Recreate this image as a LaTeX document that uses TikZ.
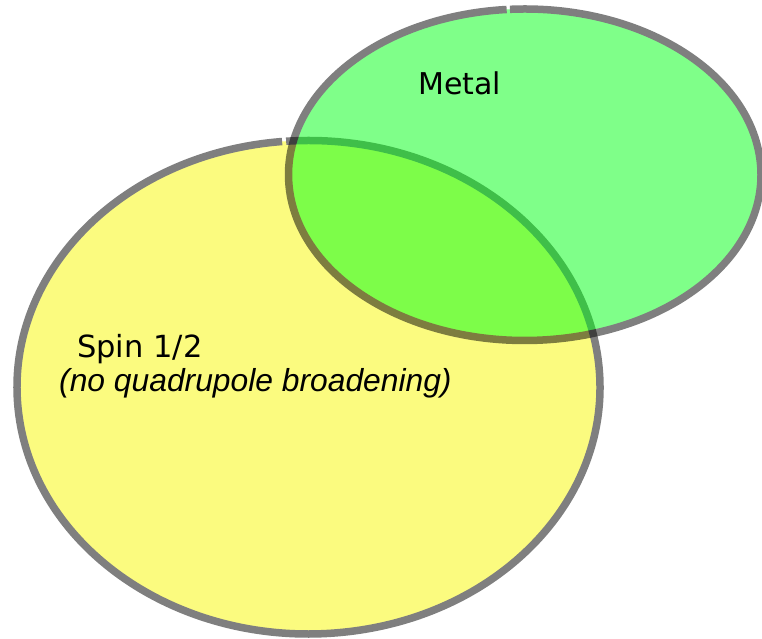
\documentclass[tikz,border=0pt]{standalone}
\usepackage{fontspec}
\setmainfont{DejaVu Sans}
\newfontfamily\italfont{Liberation Sans}
\definecolor{yfill}{RGB}{247,247,0}
\definecolor{gfill}{RGB}{0,255,20}
\tikzset{
  outline/.style={draw=black, line width=7.5pt},
  setgroup/.style={transparency group, opacity=0.5},
  lbl/.style={anchor=base west, inner sep=0pt, text=black}
}
\begin{document}
\begin{tikzpicture}
\useasboundingbox (0,0) rectangle (762pt,639pt);
\coordinate (yc) at (308.5pt,251.75pt);
\coordinate (gc) at (524.75pt,464.25pt);
% Spin 1/2 ellipse
\begin{scope}[setgroup]
\fill[yfill] (yc) ellipse [x radius=291.5pt, y radius=246.75pt];
\draw[outline] ([shift={(95.2:291.5pt and 246.75pt)}]yc) arc [start angle=95.2, end angle=454.4, x radius=291.5pt, y radius=246.75pt];
\end{scope}
% Metal ellipse
\begin{scope}[setgroup]
\fill[gfill] (gc) ellipse [x radius=236.25pt, y radius=165.75pt];
\draw[outline] ([shift={(94.4:236.25pt and 165.75pt)}]gc) arc [start angle=94.4, end angle=453.6, x radius=236.25pt, y radius=165.75pt];
\end{scope}
% labels
\node[lbl, font=\fontsize{30}{36}\selectfont] (metal) at (418pt,544pt) {Metal};
\node[lbl, font=\fontsize{30.5}{36}\selectfont] (spin) at (77pt,281pt) {Spin 1/2};
\node[lbl, font=\italfont\itshape\fontsize{31.8}{38}\selectfont] (quad) at (59pt,247pt) {(no quadrupole broadening)};
\end{tikzpicture}
\end{document}
